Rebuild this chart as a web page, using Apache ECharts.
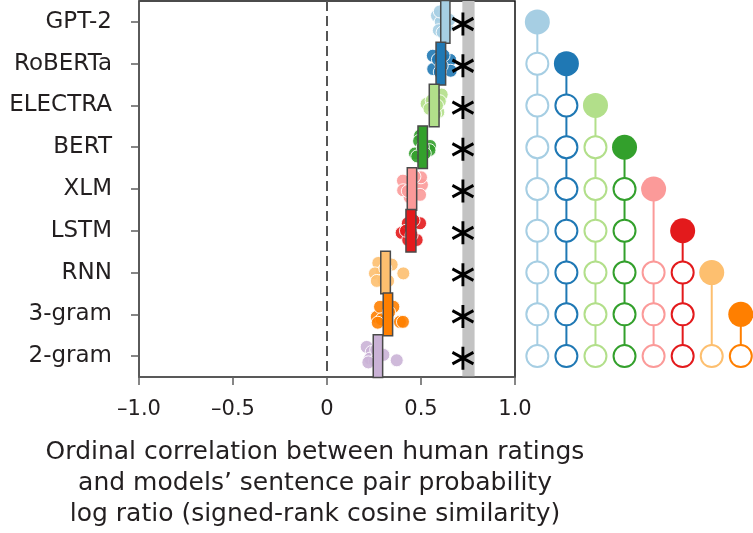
<!DOCTYPE html>
<html>
<head>
<meta charset="utf-8">
<script src="https://cdn.jsdelivr.net/npm/echarts@6/dist/echarts.min.js"></script>
<style>html,body{margin:0;padding:0;background:#fff;}#c{width:753px;height:533px;}</style>
</head>
<body>
<div id="c"></div>
<script>
// ---------- data ----------
const models = ['GPT-2','RoBERTa','ELECTRA','BERT','XLM','LSTM','RNN','3-gram','2-gram'];
const modelColors = ['#a6cee3','#1f78b4','#b2df8a','#33a02c','#fb9a99','#e31a1c','#fdbf6f','#ff7f00','#cab2d6'];
// box (confidence interval) per model
const boxLow  = [0.605,0.580,0.544,0.484,0.427,0.420,0.286,0.299,0.246];
const boxHigh = [0.654,0.631,0.596,0.534,0.477,0.473,0.337,0.349,0.296];
// noise ceiling band
const ceilingLow = 0.720, ceilingHigh = 0.785;
// significance star position (vs. noise ceiling)
const starX = 0.723;
const xTicks = [-1.0,-0.5,0,0.5,1.0];
// individual points: [correlation, vertical jitter within row]
const ptsGPT2    = [[0.585,-0.15],[0.605,0.0],[0.595,0.2],[0.625,-0.2],[0.640,0.1],[0.615,0.25],[0.650,-0.05],[0.600,-0.25]];
const ptsRoBERTa = [[0.563,-0.19],[0.565,0.13],[0.655,-0.09],[0.658,0.17],[0.590,-0.1],[0.610,0.05],[0.620,-0.2],[0.600,0.2]];
const ptsELECTRA = [[0.530,-0.04],[0.610,-0.26],[0.592,0.16],[0.557,-0.12],[0.545,0.08],[0.575,0.2],[0.600,-0.1],[0.585,0.0]];
const ptsBERT    = [[0.495,-0.28],[0.548,-0.03],[0.545,0.07],[0.468,0.15],[0.490,-0.15],[0.480,0.22],[0.510,0.0],[0.520,0.15]];
const ptsXLM     = [[0.404,-0.2],[0.405,0.03],[0.505,-0.1],[0.495,0.14],[0.500,-0.28],[0.440,0.2],[0.465,-0.3],[0.430,0.05]];
const ptsLSTM    = [[0.495,-0.18],[0.397,0.05],[0.432,0.22],[0.477,0.22],[0.430,-0.18],[0.420,0.0],[0.460,-0.25],[0.450,0.1]];
const ptsRNN     = [[0.273,-0.23],[0.344,-0.19],[0.290,0.0],[0.255,0.02],[0.406,0.02],[0.300,0.17],[0.325,0.2],[0.265,0.2],[0.310,-0.1]];
const pts3gram   = [[0.265,0.06],[0.282,-0.18],[0.353,-0.18],[0.388,0.18],[0.404,0.18],[0.308,0.14],[0.290,0.12],[0.330,-0.05],[0.270,0.2]];
const pts2gram   = [[0.211,-0.22],[0.238,-0.1],[0.229,0.06],[0.300,-0.03],[0.371,0.1],[0.255,0.12],[0.220,0.15],[0.262,-0.15]];
const allPts = [ptsGPT2,ptsRoBERTa,ptsELECTRA,ptsBERT,ptsXLM,ptsLSTM,ptsRNN,pts3gram,pts2gram];
// pairwise significance: models significantly outperformed by each model
const winsGPT2    = ['RoBERTa','ELECTRA','BERT','XLM','LSTM','RNN','3-gram','2-gram'];
const winsRoBERTa = ['ELECTRA','BERT','XLM','LSTM','RNN','3-gram','2-gram'];
const winsELECTRA = ['BERT','XLM','LSTM','RNN','3-gram','2-gram'];
const winsBERT    = ['XLM','LSTM','RNN','3-gram','2-gram'];
const winsXLM     = ['RNN','3-gram','2-gram'];
const winsLSTM    = ['RNN','3-gram','2-gram'];
const winsRNN     = ['2-gram'];
const wins3gram   = ['2-gram'];
const allWins = [winsGPT2,winsRoBERTa,winsELECTRA,winsBERT,winsXLM,winsLSTM,winsRNN,wins3gram];

const xTitle = 'Ordinal correlation between human ratings\nand models\u2019 sentence pair probability\nlog ratio (signed-rank cosine similarity)';

// ---------- chart ----------
const FONT = 'DejaVu Sans';
const TXT = '#231f20';
const AX = '#5f5f5f';
const chart = echarts.init(document.getElementById('c'), null, {renderer:'canvas'});
const nRow = models.length;

const series = [];
// noise ceiling band
series.push({
  type:'custom', xAxisIndex:0, yAxisIndex:1, z:0, silent:true,
  data:[[ceilingLow, ceilingHigh, -0.5, nRow-0.5]],
  encode:{x:[0,1], y:[2,3]},
  renderItem:(p,api)=>{
    const a=api.coord([api.value(0), api.value(2)]), b=api.coord([api.value(1), api.value(3)]);
    return {type:'rect', shape:{x:a[0], y:a[1], width:b[0]-a[0], height:b[1]-a[1]}, style:{fill:'#c3c3c3'}};
  }
});
// zero dashed line
series.push({
  type:'custom', xAxisIndex:0, yAxisIndex:1, z:1, silent:true,
  data:[[0, -0.5, nRow-0.5]],
  encode:{x:0, y:[1,2]},
  renderItem:(p,api)=>{
    const a=api.coord([api.value(0), api.value(1)]), b=api.coord([api.value(0), api.value(2)]);
    return {type:'line', shape:{x1:a[0], y1:a[1], x2:b[0], y2:b[1]}, style:{stroke:'#555', lineWidth:2, lineDash:[10,5]}};
  }
});
// points
allPts.forEach((pts,i)=>{
  series.push({
    type:'scatter', xAxisIndex:0, yAxisIndex:1, z:2, clip:false, silent:true,
    symbolSize:13,
    itemStyle:{color:modelColors[i], borderColor:'#fff', borderWidth:1, opacity:0.9},
    data: pts.map(p=>[p[0], i + p[1]])
  });
});
// boxes
series.push({
  type:'custom', xAxisIndex:0, yAxisIndex:1, z:3, silent:true,
  data: models.map((m,i)=>[i, boxLow[i], boxHigh[i]]),
  encode:{x:[1,2], y:0},
  renderItem:(p,api)=>{
    const i=api.value(0);
    const a=api.coord([api.value(1), i-0.51]), b=api.coord([api.value(2), i+0.51]);
    return {type:'rect', shape:{x:a[0], y:a[1], width:b[0]-a[0], height:b[1]-a[1]},
      style:{fill:modelColors[i], stroke:'#4a4a4a', lineWidth:1.5}};
  }
});
// stars
series.push({
  type:'scatter', xAxisIndex:0, yAxisIndex:1, z:4, clip:false, silent:true,
  symbol:'path://M10.39,0L10.39,24M0,6L20.78,18M0,18L20.78,6',
  symbolSize:[21,23],
  itemStyle:{color:'rgba(0,0,0,0)', borderColor:'#000', borderWidth:3, opacity:1},
  data: models.map((m,i)=>[starX, i+0.05])
});
// right panel: significance matrix
allWins.forEach((w,j)=>{
  const rows = w.map(n=>models.indexOf(n));
  const last = Math.max(...rows);
  series.push({
    type:'line', xAxisIndex:1, yAxisIndex:2, z:1, silent:true, symbol:'none',
    lineStyle:{color:modelColors[j], width:2},
    data:[[j, j],[j, last]]
  });
  series.push({
    type:'scatter', xAxisIndex:1, yAxisIndex:2, z:2, clip:false, silent:true,
    symbolSize:22,
    itemStyle:{color:'#fff', borderColor:modelColors[j], borderWidth:2, opacity:1},
    data: rows.map(r=>[j, r])
  });
  series.push({
    type:'scatter', xAxisIndex:1, yAxisIndex:2, z:3, clip:false, silent:true,
    symbolSize:25,
    itemStyle:{color:modelColors[j], opacity:1},
    data:[[j, j]]
  });
});

const option = {
  animation:false,
  backgroundColor:'#fff',
  textStyle:{fontFamily:FONT},
  grid:[
    {left:139, right:238, top:1, bottom:156, show:true, borderColor:'#111', borderWidth:1.5, backgroundColor:'transparent'},
    {left:522.8, width:218, top:1, bottom:156, show:false}
  ],
  xAxis:[
    {type:'value', gridIndex:0, min:-1, max:1, interval:0.5,
     axisLine:{show:true, onZero:false, lineStyle:{color:AX, width:1.5}},
     axisTick:{show:true, length:8, lineStyle:{color:AX, width:1.5}},
     splitLine:{show:false},
     axisLabel:{fontFamily:FONT, fontSize:21, color:TXT, margin:22,
       formatter:v=>{ const t = xTicks.find(x=>Math.abs(x-v)<1e-9); const val = (t===undefined?v:t);
         if (Math.abs(val)<1e-9) return '0'; return (val<0?'\u2013':'') + Math.abs(val).toFixed(1); }}
    },
    {type:'value', gridIndex:1, min:-0.5, max:7, show:false}
  ],
  yAxis:[
    {type:'category', gridIndex:0, data:models, inverse:true,
     axisLine:{show:true, onZero:false, lineStyle:{color:AX, width:1.5}},
     axisTick:{show:true, alignWithLabel:true, length:8, lineStyle:{color:AX, width:1.5}},
     axisLabel:{fontFamily:FONT, fontSize:23, color:TXT, margin:27},
     splitLine:{show:false}
    },
    {type:'value', gridIndex:0, min:-0.5, max:nRow-0.5, inverse:true, show:false},
    {type:'value', gridIndex:1, min:-0.5, max:nRow-0.5, inverse:true, show:false}
  ],
  graphic:[{
    type:'text', z:10,
    x:315, y:483,
    style:{text:xTitle, x:0, y:0, fill:TXT, font:'25px "DejaVu Sans"', align:'center', verticalAlign:'middle', lineHeight:31}
  }],
  series
};
chart.setOption(option);
</script>
</body>
</html>
